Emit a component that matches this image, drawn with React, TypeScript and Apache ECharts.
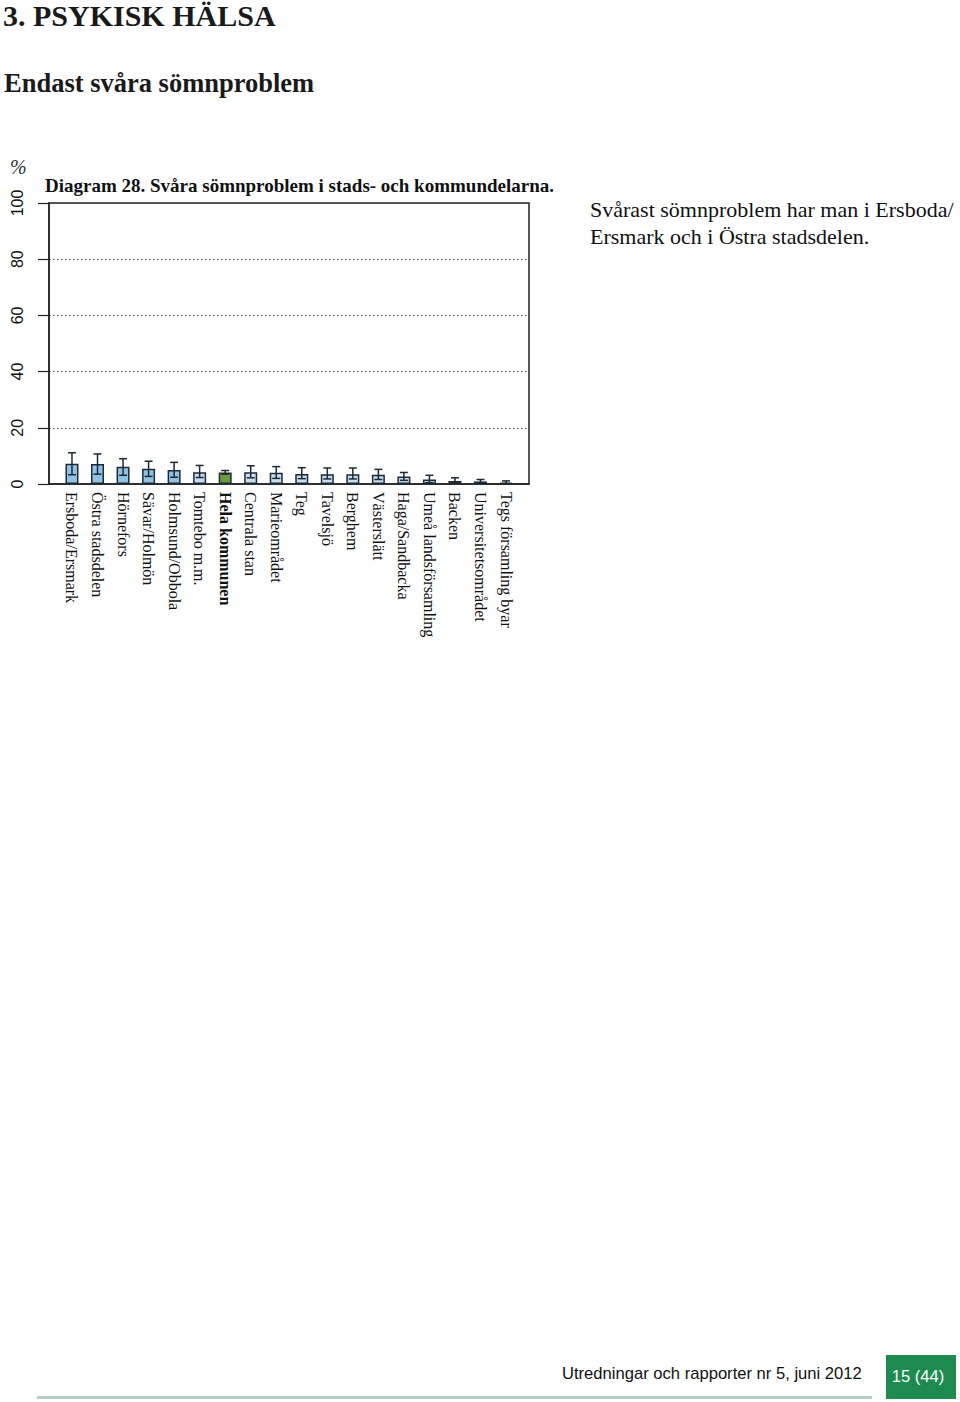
import React, { useEffect, useRef } from "react";
import * as echarts from "echarts";

const categories = [
  "Ersboda/Ersmark", "Östra stadsdelen", "Hörnefors", "Sävar/Holmön", "Holmsund/Obbola",
  "Tomtebo m.m.", "Hela kommunen", "Centrala stan", "Marieområdet", "Teg", "Tavelsjö",
  "Berghem", "Västerslätt", "Haga/Sandbacka", "Umeå landsförsamling", "Backen",
  "Universitetsområdet", "Tegs församling byar",
];
const values = [7.2, 7.1, 6.1, 5.4, 5.0, 4.2, 4.1, 4.2, 4.0, 3.6, 3.5, 3.5, 3.3, 2.7, 1.6, 1.1, 0.9, 0.5];
const errLow = [3.3, 3.5, 3.1, 2.7, 2.4, 2.3, 3.5, 2.2, 2.0, 1.9, 1.8, 1.8, 1.6, 1.3, 0.5, 0.4, 0.3, 0.1];
const errHigh = [11.1, 10.7, 9.0, 8.1, 7.7, 6.6, 4.8, 6.5, 6.2, 5.8, 5.7, 5.7, 5.2, 4.1, 3.1, 2.2, 1.6, 1.1];
const yTicks = [0, 20, 40, 60, 80, 100];
const totalName = "Hela kommunen";

const DARK = "#1d2a36";
const serif = "'Liberation Serif', 'DejaVu Serif', serif";
const sans = "'Liberation Sans', Arial, sans-serif";

function barColor(i: number): string {
  if (categories[i] === totalName) return "#6a9c3a";
  return i < 5 ? "#8fc3e6" : "#c5def2";
}

export default function App() {
  const ref = useRef<HTMLDivElement>(null);
  useEffect(() => {
    if (!ref.current) return;
    const chart = echarts.init(ref.current, null, { renderer: "svg" });
    const idx = categories.map((_, i) => i);
    chart.setOption({
      animation: false,
      backgroundColor: "#ffffff",
      grid: {
        left: 49, right: 960 - 529, top: 203, bottom: 1402 - 484,
        show: true, borderColor: "#222", borderWidth: 1.5,
      },
      xAxis: {
        type: "value", min: -0.9, max: 17.9,
        axisLine: { show: true, onZero: false, lineStyle: { color: "#222", width: 1.5 } },
        axisTick: { show: false },
        splitLine: { show: false },
        axisLabel: {
          customValues: idx,
          rotate: -90,
          margin: 8,
          fontFamily: serif,
          fontSize: 16,
          color: "#111",
          formatter: (v: number) => {
            const name = categories[Math.round(v)];
            return name === totalName ? `{b|${name}}` : name;
          },
          rich: { b: { fontWeight: "bold", fontFamily: serif, fontSize: 16, color: "#111" } },
        },
      },
      yAxis: {
        type: "value", min: 0, max: 100, interval: 20,
        axisLine: { show: true, onZero: false, lineStyle: { color: "#222", width: 1.5 } },
        axisTick: { show: true, length: 11, lineStyle: { color: "#222", width: 1.2 } },
        splitLine: { show: true, lineStyle: { type: [1.5, 2.5], color: "#444", width: 1 } },
        axisLabel: {
          rotate: 90, margin: 24, fontFamily: sans, fontSize: 16, color: "#111",
          customValues: yTicks,
        },
      },
      series: [
        {
          type: "bar",
          barWidth: 13,
          data: idx.map((i) => ({
            value: [i, values[i]],
            itemStyle: { color: barColor(i), borderColor: DARK, borderWidth: 1.5 },
          })),
        },
        {
          type: "custom",
          data: idx.map((i) => [i, errLow[i], errHigh[i]]),
          renderItem: (params: any, api: any) => {
            const x = api.value(0);
            const lo = api.coord([x, api.value(1)]);
            const hi = api.coord([x, api.value(2)]);
            const cw = 4;
            const st = { stroke: DARK, lineWidth: 1.5 };
            return {
              type: "group",
              children: [
                { type: "line", shape: { x1: lo[0], y1: lo[1], x2: hi[0], y2: hi[1] }, style: st },
                { type: "line", shape: { x1: lo[0] - cw, y1: lo[1], x2: lo[0] + cw, y2: lo[1] }, style: st },
                { type: "line", shape: { x1: hi[0] - cw, y1: hi[1], x2: hi[0] + cw, y2: hi[1] }, style: st },
              ],
            };
          },
          z: 5,
        },
      ],
      graphic: [
        { type: "text", left: 3, top: 0, style: { text: "3. PSYKISK HÄLSA", font: `bold 30px ${serif}`, fill: "#1a1a1a" } },
        { type: "text", left: 4, top: 69, style: { text: "Endast svåra sömnproblem", font: `bold 26.5px ${serif}`, fill: "#1a1a1a" } },
        { type: "text", left: 10, top: 157, style: { text: "%", font: `italic 20px ${serif}`, fill: "#333" } },
        { type: "text", left: 45, top: 176, style: { text: "Diagram 28. Svåra sömnproblem i stads- och kommundelarna.", font: `bold 19px ${serif}`, fill: "#111" } },
        { type: "text", left: 590, top: 196, style: { text: "Svårast sömnproblem har man i Ersboda/\nErsmark och i Östra stadsdelen.", font: `22px ${serif}`, lineHeight: 27, fill: "#111" } },
        { type: "text", left: 562, top: 1365, style: { text: "Utredningar och rapporter nr 5, juni 2012", font: `16.6px ${sans}`, fill: "#111" } },
        { type: "rect", shape: { x: 886, y: 1355, width: 70, height: 44 }, style: { fill: "#1d8a4e" } },
        { type: "text", x: 918, y: 1376, style: { text: "15 (44)", font: `16.6px ${sans}`, fill: "#ffffff", align: "center", verticalAlign: "middle" } },
        { type: "rect", shape: { x: 37, y: 1396, width: 835, height: 3 }, style: { fill: "#b3d0c6" } },
      ],
    });
    return () => chart.dispose();
  }, []);
  return <div ref={ref} style={{ position: "absolute", left: 0, top: 0, width: 960, height: 1402 }} />;
}
